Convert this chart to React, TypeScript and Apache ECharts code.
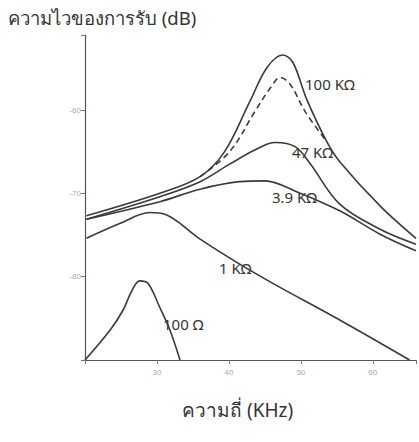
import React, { useEffect, useRef } from "react";
import * as echarts from "echarts";

const yTicks = [-80, -70, -60];
const xTickLabels: Record<number, string> = { 30: "30", 40: "40", 50: "50", 60: "60" };

const r100: [number, number][] = [
  [20, -90], [23.5, -86.4], [25.3, -84.0], [26.5, -81.7], [27.6, -80.5],
  [28.75, -80.8], [30.4, -83.7], [31.8, -86.4], [33.2, -90],
];
const r1k: [number, number][] = [
  [20.2, -75.4], [24.9, -73.6], [29.0, -72.3], [31.1, -72.5], [36.0, -75.5],
  [41.5, -78.5], [46.1, -80.8], [55.4, -85.2], [65.1, -90],
];
const r3k9: [number, number][] = [
  [20.2, -73.1], [30.4, -71.0], [36, -69.5], [41.5, -68.6], [45, -68.5],
  [49.4, -69.8], [55.4, -72.1], [61, -74.9], [66, -76.9],
];
const r47k: [number, number][] = [
  [20.2, -73.1], [30.4, -70.4], [36, -68.6], [40.1, -66.5], [43.6, -64.8],
  [46.4, -63.9], [49.2, -64.4], [51.25, -66.4], [55.4, -71.3], [61, -74.3], [66, -76.1],
];
const r100k: [number, number][] = [
  [20.2, -72.7], [30.4, -70], [36, -68], [39.4, -65], [42.9, -59], [45.3, -54.9],
  [47.5, -53.4], [48.9, -54.3], [50.8, -58.7], [53.6, -63.8], [55.4, -66.2], [61, -71.5], [66, -75.4],
];
const r100kDash: [number, number][] = [
  [36, -68], [40.1, -65], [43.6, -60.2], [45.8, -57.3], [47.1, -56.1],
  [48.5, -56.9], [50.6, -60.2], [53.6, -63.8],
];

const FONT = "'Noto Sans', 'DejaVu Sans', sans-serif";

export default function App() {
  const ref = useRef<HTMLDivElement>(null);
  useEffect(() => {
    if (!ref.current) return;
    const chart = echarts.init(ref.current, null, { renderer: "svg" });
    const lineStyle = { color: "#3a3a3a", width: 1.6 };
    const mk = (data: [number, number][], dashed = false) => ({
      type: "line",
      data,
      smooth: 0.35,
      showSymbol: false,
      symbol: "none",
      lineStyle: { ...lineStyle, type: dashed ? [6, 4] : "solid" },
      silent: true,
    });
    const labelText = (text: string, x: number, y: number) => ({
      type: "text",
      x,
      y,
      style: { text, fill: "#333", font: `15px ${FONT}`, textVerticalAlign: "middle" },
    });
    chart.setOption({
      animation: false,
      backgroundColor: "#fff",
      grid: { left: 85, top: 35, right: 1, bottom: 82 },
      xAxis: {
        type: "value",
        min: 20,
        max: 66,
        interval: 10,
        axisLine: { lineStyle: { color: "#555", width: 1.2 } },
        axisTick: { show: true, length: 4, lineStyle: { color: "#777" } },
        axisLabel: {
          color: "#aaa",
          fontSize: 8,
          margin: 8,
          formatter: (v: number) => xTickLabels[v] ?? "",
        },
        splitLine: { show: false },
      },
      yAxis: {
        type: "value",
        min: -90,
        max: -51,
        interval: 10,
        axisLine: { show: true, lineStyle: { color: "#555", width: 1.2 } },
        axisTick: { show: true, length: 4, lineStyle: { color: "#777" } },
        axisLabel: {
          color: "#aaa",
          fontSize: 8,
          margin: 4,
          formatter: (v: number) => (yTicks.includes(v) ? String(v) : ""),
        },
        splitLine: { show: false },
      },
      series: [mk(r100), mk(r1k), mk(r3k9), mk(r47k), mk(r100k), mk(r100kDash, true)],
      graphic: [
        {
          type: "text",
          left: 8,
          top: 8,
          style: { text: "ความไวของการรับ (dB)", fill: "#333", font: `18.5px ${FONT}` },
        },
        {
          type: "text",
          left: 182,
          top: 400,
          style: { text: "ความถี่ (KHz)", fill: "#333", font: `19px ${FONT}` },
        },
        labelText("100 KΩ", 305, 84),
        labelText("47 KΩ", 292, 152),
        labelText("3.9 KΩ", 272, 197),
        labelText("1 KΩ", 219, 268),
        labelText("100 Ω", 163, 324),
      ],
    });
    return () => chart.dispose();
  }, []);
  return (
    <div
      ref={ref}
      style={{ position: "fixed", left: 0, top: 0, width: 419, height: 442 }}
    />
  );
}
